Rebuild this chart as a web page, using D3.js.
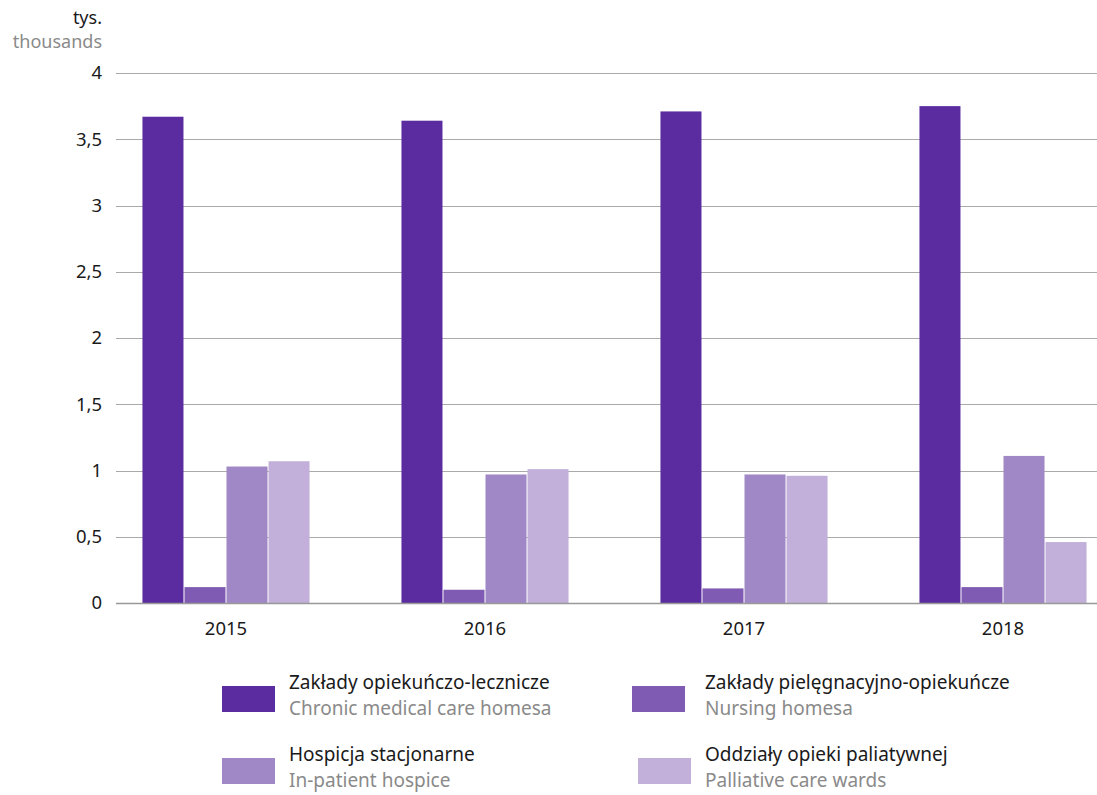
<!DOCTYPE html>
<html><head><meta charset="utf-8">
<script src="https://cdn.jsdelivr.net/npm/d3@7"></script>
<style>body{margin:0;background:#fff;font-family:"Noto Sans","Open Sans",sans-serif;}</style>
</head><body>
<svg id="c" width="1097" height="795"></svg>
<script>
const years = ["2015","2016","2017","2018"];
const seriesPL = ["Zakłady opiekuńczo-lecznicze","Zakłady pielęgnacyjno-opiekuńcze","Hospicja stacjonarne","Oddziały opieki paliatywnej"];
const seriesEN = ["Chronic medical care homesa","Nursing homesa","In-patient hospice","Palliative care wards"];
const chronic = [3.67, 3.64, 3.71, 3.75];
const nursing = [0.12, 0.10, 0.11, 0.12];
const hospice = [1.03, 0.97, 0.97, 1.11];
const palliative = [1.07, 1.01, 0.96, 0.46];
const yTicks = [0, 0.5, 1, 1.5, 2, 2.5, 3, 3.5, 4];
const colors = ["#5b2c9f", "#805bb3", "#a087c6", "#c2b0da"];
const series = [chronic, nursing, hospice, palliative];

const svg = d3.select("#c");
const y = d3.scaleLinear().domain([0,4]).range([603,73]);
const x0 = d3.scaleBand().domain(years).range([96.5,1132.5]).paddingInner(0.351).paddingOuter(0.1755);
const x1 = d3.scaleBand().domain(d3.range(4)).range([0, x0.bandwidth()]);
const fmt = v => String(v).replace(".", ",");

// grid
svg.append("g").selectAll("line").data(yTicks.filter(t=>t>0)).join("line")
  .attr("x1",116).attr("x2",1097).attr("y1",d=>Math.round(y(d))+0.5).attr("y2",d=>Math.round(y(d))+0.5)
  .attr("stroke","#aaaaaa").attr("stroke-width",1);

// y axis labels
const yAxis = d3.axisLeft(y).tickValues(yTicks).tickFormat(fmt).tickSize(0).tickPadding(0);
const ga = svg.append("g").attr("transform","translate(102,0)").call(yAxis);
ga.select(".domain").remove();
ga.selectAll("text").attr("font-size",18.5).attr("fill","#1a1a1a").attr("font-family","Noto Sans, sans-serif");

// bars
const groups = svg.append("g").selectAll("g").data(years).join("g")
  .attr("transform", d=>`translate(${x0(d)},0)`);
groups.selectAll("rect").data((d,i)=>series.map((s,k)=>({k, v:s[i]}))).join("rect")
  .attr("x", d=>x1(d.k)+0.5).attr("width", x1.bandwidth()-1)
  .attr("y", d=>y(d.v)).attr("height", d=>y(0)-y(d.v))
  .attr("fill", d=>colors[d.k]);

// baseline
svg.append("line").attr("x1",116).attr("x2",1097).attr("y1",603.5).attr("y2",603.5)
  .attr("stroke","#999999").attr("stroke-width",1.5);

// x labels
const xAxis = d3.axisBottom(x0).tickSize(0).tickPadding(0);
const gx = svg.append("g").attr("transform","translate(0,622)").call(xAxis);
gx.select(".domain").remove();
gx.selectAll("text").attr("font-size",18.5).attr("fill","#1a1a1a").attr("font-family","Noto Sans, sans-serif");

// unit labels
svg.append("text").attr("x",102).attr("y",24).attr("text-anchor","end").attr("font-size",18).attr("fill","#1a1a1a").text("tys.");
svg.append("text").attr("x",102).attr("y",48).attr("text-anchor","end").attr("font-size",18).attr("fill","#8a8a8a").text("thousands");

// legend
const legPos = [[222,686,289],[632,686,705],[222,758,289],[638,758,705]];
const leg = svg.append("g").selectAll("g").data(d3.range(4)).join("g");
leg.append("rect").attr("x",k=>legPos[k][0]).attr("y",k=>legPos[k][1]).attr("width",53).attr("height",26).attr("fill",k=>colors[k]);
leg.append("text").attr("x",k=>legPos[k][2]).attr("y",k=>legPos[k][1]+3).attr("font-size",19).attr("fill","#1a1a1a").text(k=>seriesPL[k]);
leg.append("text").attr("x",k=>legPos[k][2]).attr("y",k=>legPos[k][1]+29).attr("font-size",19).attr("fill","#8a8a8a").text(k=>seriesEN[k]);
</script>
</body></html>
